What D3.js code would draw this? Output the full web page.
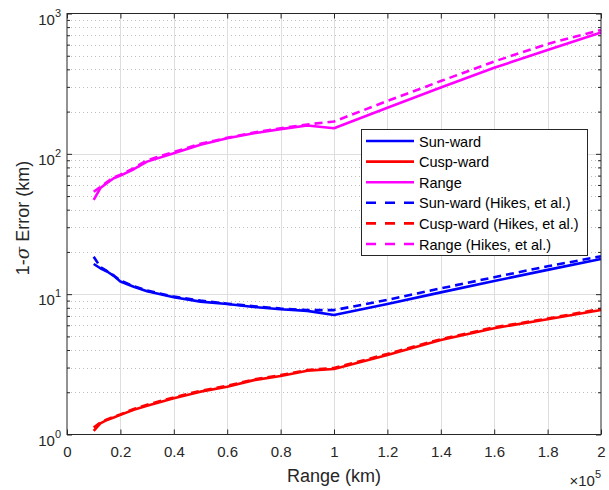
<!DOCTYPE html>
<html>
<head>
<meta charset="utf-8">
<script src="https://cdn.jsdelivr.net/npm/d3@7"></script>
<style>
  body { margin: 0; background: #fff; }
  svg { font-family: "Liberation Sans", Arial, sans-serif; }
</style>
</head>
<body>
<div id="container"></div>
<script>
// range values, in units of 1e5 km
const ranges = [0.1, 0.125, 0.15, 0.175, 0.2, 0.25, 0.3, 0.4, 0.5, 0.6, 0.7, 0.8, 0.9, 1.0, 1.2, 1.4, 1.6, 1.8, 2.0]

// 1-sigma errors (km)
const sunward      = [16.4, 15.3, 14.5, 13.5, 12.3, 11.3, 10.5, 9.5, 8.85, 8.5, 8.1, 7.8, 7.6, 7.1, 8.5, 10.3, 12.4, 14.9, 17.8]
const cuspward     = [1.06, 1.2, 1.27, 1.32, 1.38, 1.5, 1.6, 1.81, 2.02, 2.19, 2.44, 2.61, 2.85, 2.93, 3.69, 4.72, 5.72, 6.63, 7.71]
const rangeErr     = [46.9, 57, 62, 67, 70, 77.7, 88, 101, 116, 129, 140, 150, 159, 152, 213, 297, 410, 550, 731]
const sunwardHikes  = [18.5, 15.6, 14.6, 13.6, 12.5, 11.4, 10.6, 9.6, 9.0, 8.55, 8.2, 7.9, 7.7, 7.7, 9.1, 11.0, 13.2, 15.8, 18.6]
const cuspwardHikes = [1.12, 1.22, 1.28, 1.34, 1.39, 1.52, 1.63, 1.84, 2.05, 2.22, 2.47, 2.65, 2.88, 2.98, 3.75, 4.78, 5.8, 6.7, 7.85]
const rangeHikes    = [53.7, 58, 63, 68, 71, 79, 90, 103, 118, 130, 142, 152, 162, 170, 238, 330, 455, 607, 764]

const xTicks = [0, 0.2, 0.4, 0.6, 0.8, 1, 1.2, 1.4, 1.6, 1.8, 2]
const yDecades = [0, 1, 2, 3]

const seriesNames = ['Sun-ward', 'Cusp-ward', 'Range', 'Sun-ward (Hikes, et al.)', 'Cusp-ward (Hikes, et al.)', 'Range (Hikes, et al.)']
const seriesValues = [sunward, cuspward, rangeErr, sunwardHikes, cuspwardHikes, rangeHikes]
const seriesColors = ['#0000ff', '#ff0000', '#ff00ff', '#0000ff', '#ff0000', '#ff00ff']
const seriesDashed = [false, false, false, true, true, true]

//svg size
const w = 609
const h = 490
const margin = {left: 67, right: 8, top: 13.5, bottom: 55.5}
const axisColor = '#262626'

const svg = d3.select('#container')
    .append('svg')
    .attr('width', w)
    .attr('height', h)

const x = d3.scaleLinear()
    .domain([0, 2])
    .range([margin.left, w - margin.right])

const y = d3.scaleLog()
    .domain([1, 1000])
    .range([h - margin.bottom, margin.top])

const x0 = x.range()[0], x1 = x.range()[1]
const y0 = y.range()[0], y1 = y.range()[1]

//minor values 2..9 per decade
const minor = []
yDecades.slice(0, -1).forEach(function(d) {
    for (let k = 2; k <= 9; k++) minor.push(k * Math.pow(10, d))
})

//grid
const grid = svg.append('g')
grid.selectAll('line.minor')
    .data(minor)
    .enter()
    .append('line')
    .attr('x1', x0).attr('x2', x1)
    .attr('y1', d => Math.round(y(d)) + 0.5).attr('y2', d => Math.round(y(d)) + 0.5)
    .attr('stroke', '#bdbdbd')
    .attr('stroke-width', 1)
    .attr('stroke-dasharray', '1,3')
grid.selectAll('line.vx')
    .data(xTicks.slice(1, -1))
    .enter()
    .append('line')
    .attr('x1', d => Math.round(x(d)) + 0.5).attr('x2', d => Math.round(x(d)) + 0.5)
    .attr('y1', y0).attr('y2', y1)
    .attr('stroke', '#dedede')
grid.selectAll('line.hy')
    .data(yDecades.slice(1, -1))
    .enter()
    .append('line')
    .attr('x1', x0).attr('x2', x1)
    .attr('y1', d => Math.round(y(Math.pow(10, d))) + 0.5).attr('y2', d => Math.round(y(Math.pow(10, d))) + 0.5)
    .attr('stroke', '#dedede')

//lines
const line = d3.line()
    .x((d, i) => x(ranges[i]))
    .y(d => y(d))

const plot = svg.append('g')
seriesValues.forEach(function(vals, i) {
    plot.append('path')
        .datum(vals)
        .attr('fill', 'none')
        .attr('stroke', seriesColors[i])
        .attr('stroke-width', 2.6)
        .attr('stroke-linejoin', 'round')
        .attr('stroke-dasharray', seriesDashed[i] ? '8,5' : null)
        .attr('d', line)
})

//axes (ticks inward on all four sides)
const xAxis = d3.axisBottom(x)
    .tickValues(xTicks)
    .tickSize(-5)
    .tickPadding(12)
    .tickFormat(d => d3.format('~g')(d))

svg.append('g')
    .attr('transform', 'translate(0,' + y0 + ')')
    .call(xAxis)
    .call(g => g.select('.domain').remove())
    .call(g => g.selectAll('line').attr('stroke', axisColor))
    .call(g => g.selectAll('text').attr('fill', axisColor).attr('font-size', 15).attr('font-family', '"Liberation Sans", Arial, sans-serif'))

svg.append('g')
    .attr('transform', 'translate(0,' + y1 + ')')
    .call(d3.axisTop(x).tickValues(xTicks).tickSize(-5).tickFormat(''))
    .call(g => g.select('.domain').remove())
    .call(g => g.selectAll('line').attr('stroke', axisColor))

const decadeVals = yDecades.map(d => Math.pow(10, d))
svg.append('g')
    .attr('transform', 'translate(' + x0 + ',0)')
    .call(d3.axisLeft(y).tickValues(decadeVals).tickSize(-5).tickFormat(''))
    .call(g => g.select('.domain').remove())
    .call(g => g.selectAll('line').attr('stroke', axisColor))
svg.append('g')
    .attr('transform', 'translate(' + x0 + ',0)')
    .call(d3.axisLeft(y).tickValues(minor).tickSize(-3).tickFormat(''))
    .call(g => g.select('.domain').remove())
    .call(g => g.selectAll('line').attr('stroke', axisColor))
svg.append('g')
    .attr('transform', 'translate(' + x1 + ',0)')
    .call(d3.axisRight(y).tickValues(decadeVals).tickSize(-5).tickFormat(''))
    .call(g => g.select('.domain').remove())
    .call(g => g.selectAll('line').attr('stroke', axisColor))
svg.append('g')
    .attr('transform', 'translate(' + x1 + ',0)')
    .call(d3.axisRight(y).tickValues(minor).tickSize(-3).tickFormat(''))
    .call(g => g.select('.domain').remove())
    .call(g => g.selectAll('line').attr('stroke', axisColor))

//box
svg.append('rect')
    .attr('x', x0).attr('y', y1)
    .attr('width', x1 - x0).attr('height', y0 - y1)
    .attr('fill', 'none')
    .attr('stroke', axisColor)
    .attr('stroke-width', 1)

//y tick labels 10^n
const yLabels = svg.append('g')
    .selectAll('text')
    .data(yDecades)
    .enter()
    .append('text')
    .attr('x', x0 - 6)
    .attr('y', d => y(Math.pow(10, d)) + 11)
    .attr('text-anchor', 'end')
    .attr('fill', axisColor)
    .attr('font-size', 15)
yLabels.append('tspan').text('10')
yLabels.append('tspan')
    .attr('dy', -8)
    .attr('font-size', 11)
    .text(d => d)

//axis titles
svg.append('text')
    .attr('x', (x0 + x1) / 2)
    .attr('y', 482)
    .attr('text-anchor', 'middle')
    .attr('fill', axisColor)
    .attr('font-size', 18)
    .text('Range (km)')

const yt = svg.append('text')
    .attr('transform', 'translate(29,218) rotate(-90)')
    .attr('text-anchor', 'middle')
    .attr('fill', axisColor)
    .attr('font-size', 18)
yt.append('tspan').text('1-')
yt.append('tspan').attr('font-style', 'italic').attr('font-family', '"DejaVu Serif", serif').text('σ')
yt.append('tspan').text(' Error (km)')

//exponent note
const ex = svg.append('text')
    .attr('x', x1)
    .attr('y', 486)
    .attr('text-anchor', 'end')
    .attr('fill', axisColor)
    .attr('font-size', 15)
ex.append('tspan').text('×10')
ex.append('tspan').attr('dy', -8).attr('font-size', 11).text('5')

//legend
const lg = svg.append('g')
    .attr('transform', 'translate(361,129)')
lg.append('rect')
    .attr('x', 0.5).attr('y', 0.5)
    .attr('width', 226).attr('height', 126)
    .attr('fill', '#fff')
    .attr('stroke', axisColor)
    .attr('stroke-width', 1)

const items = lg.selectAll('g.item')
    .data(seriesNames)
    .enter()
    .append('g')
    .attr('class', 'item')
    .attr('transform', (d, i) => 'translate(0,' + (12 + i * 20.6) + ')')
items.append('line')
    .attr('x1', 5).attr('x2', 53)
    .attr('stroke', (d, i) => seriesColors[i])
    .attr('stroke-width', 2.6)
    .attr('stroke-dasharray', (d, i) => seriesDashed[i] ? '10,9' : null)
items.append('text')
    .attr('x', 58)
    .attr('y', 5.5)
    .attr('fill', '#000')
    .attr('font-size', 14.5)
    .text(d => d)
</script>
</body>
</html>
